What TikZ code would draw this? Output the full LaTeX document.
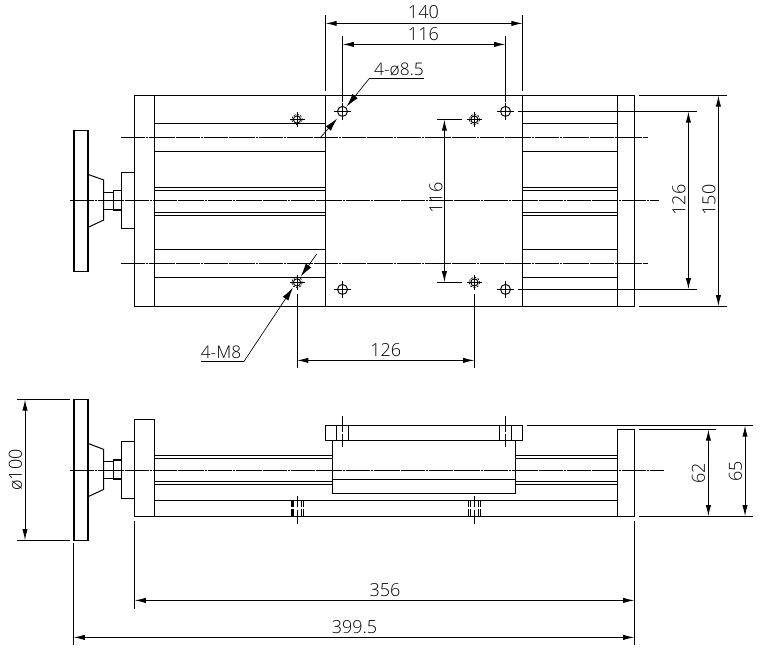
\documentclass[tikz,border=0pt]{standalone}
\usepackage{fontspec}
\setmainfont{Open Sans Light}
\usetikzlibrary{arrows.meta,calc}
\tikzset{
  part/.style={line width=0.75pt,line cap=butt,line join=miter},
  heavy/.style={line width=1.6pt},
  thin line/.style={line width=0.7pt},
  center line/.style={line width=0.75pt,dash pattern=on 18pt off .6pt on 1.5pt off .6pt},
  dimline/.style={line width=0.75pt,{Latex[length=8.5pt,width=4pt]}-{Latex[length=8.5pt,width=4pt]}},
  leader/.style={line width=0.5pt,-{Latex[length=10pt,width=5pt]}},
  label/.style={inner sep=0pt,font=\fontsize{13.5}{13.5}\selectfont},
  smalllabel/.style={inner sep=0pt,font=\fontsize{13}{13}\selectfont}
}
\newcommand{\holeA}[1]{%
  \draw[thin line] (#1) circle (5);
  \draw[thin line] ($(#1)+(-8.5,0)$) -- ++(17,0);
  \draw[thin line] ($(#1)+(0,-8.5)$) -- ++(0,17);
}
\newcommand{\holeB}[1]{%
  \draw[thin line] (#1) circle (3.6);
  \draw[line width=0.5pt,dash pattern=on 1.6pt off 1pt] (#1) circle (5.3);
  \draw[thin line] ($(#1)+(-7.5,0)$) -- ++(15,0);
  \draw[thin line] ($(#1)+(0,-7.5)$) -- ++(0,15);
}
\begin{document}
\begin{tikzpicture}[x=0.75pt,y=-0.75pt]
\useasboundingbox (0,0) rectangle (766,659);
\fill[white] (0,0) rectangle (766,659);

% ===== TOP VIEW =====
\draw[part] (134.5,95.4) rectangle (634.4,306.4);
\foreach \x in {154.5,325.5,522.4,617.5} \draw[part] (\x,95.4) -- (\x,306.4);
\foreach \y in {123.4,151.4,187.4,190.4,212.4,215.4,249.4,277.4}{
  \draw[part] (154.5,\y) -- (325.5,\y);
  \draw[part] (522.4,\y) -- (617.5,\y);
}
\draw[center line] (121,137.4) -- (648,137.4);
\draw[center line] (121,263.4) -- (648,263.4);
\draw[center line] (70,200.4) -- (659,200.4);
% handwheel
\draw[part] (73.7,130.7) rectangle (88,271.4);
\draw[heavy] (73.7,130.7) -- (73.7,271.4);
\draw[heavy] (88,130.7) -- (88,271.4);
\draw[part] (88,174.4) -- (103.7,180) -- (103.7,220) -- (88,227.4);
\draw[part] (103.7,192.4) -- (113.4,192.4) (103.7,209.4) -- (113.4,209.4);
\draw[part] (113.4,190.4) rectangle (121.4,210.4);
\draw[heavy] (113.4,210.4) -- (121.4,210.4);
\draw[part] (121.4,172.4) rectangle (134.5,228.4);
% holes
\holeB{297,119.5}
\holeB{474.4,119.5}
\holeB{297,282.4}
\holeB{474.4,282.4}
\holeA{342.5,111.4}
\holeA{505.5,111.4}
\holeA{342.5,289.4}
\holeA{505.5,289.4}

% extension lines, top view
\draw[thin line] (325.4,15) -- (325.4,90.7);
\draw[thin line] (522.7,15) -- (522.7,90.7);
\draw[thin line] (342.5,36) -- (342.5,102);
\draw[thin line] (505.5,36) -- (505.5,102);
\draw[thin line] (518,111.4) -- (696.7,111.4);
\draw[thin line] (518,289.4) -- (696.7,289.4);
\draw[thin line] (639,95.4) -- (726.7,95.4);
\draw[thin line] (639,306.4) -- (726.7,306.4);
\draw[thin line] (437.4,119.4) -- (461.7,119.4);
\draw[thin line] (437.4,282.4) -- (461.7,282.4);
\draw[thin line] (297,294.4) -- (297,368.4);
\draw[thin line] (474.4,294.4) -- (474.4,368.4);
% dimensions, top view
\draw[dimline] (325.4,23.4) -- (522.7,23.4);
\draw[dimline] (342.5,44.4) -- (505.5,44.4);
\draw[dimline] (444.4,119.4) -- (444.4,282.4);
\draw[dimline] (688.4,111.4) -- (688.4,289.4);
\draw[dimline] (718.4,95.4) -- (718.4,306.4);
\draw[dimline] (297,360.4) -- (474.4,360.4);
\node[label] (d140) at (423.4,12.5) {140};
\node[label] (d116) at (423.4,34.5) {116};
\node[label,rotate=90] (d116v) at (436,198) {116};
\node[label,rotate=90] (d126v) at (679,200) {126};
\node[label,rotate=90] (d150) at (709,200) {150};
\node[label] (d126h) at (385.7,350.5) {126};
% leaders
\node[smalllabel] (t85) at (399,69) {4-ø8.5};
\node[smalllabel] (tm8) at (221,352.5) {4-M8};
\draw[line width=0.5pt] (424,78.4) -- (369.4,78.4);
\draw[leader] (369.4,78.4) -- (346.7,106.5);
\draw[leader] (320,138) -- (337.2,118.5);
\draw[line width=0.5pt] (201,361.4) -- (244,361.4);
\draw[leader] (244,361.4) -- (293,287.5);
\draw[leader] (316.7,254) -- (300.7,276.5);

% ===== FRONT VIEW =====
\draw[center line] (70,470.4) -- (664,470.4);
% handwheel
\draw[part] (73.7,399.4) rectangle (88,540.4);
\draw[heavy] (73.7,399.4) -- (73.7,540.4);
\draw[heavy] (88,399.4) -- (88,540.4);
\draw[part] (88,443.4) -- (103.7,449.4) -- (103.7,489.4) -- (88,496.7);
\draw[part] (103.7,461.4) -- (113.4,461.4) (103.7,478.7) -- (113.4,478.7);
\draw[part] (113.4,460.4) rectangle (121.4,479.4);
\draw[heavy] (113.4,460.4) -- (121.4,460.4) (113.4,479.4) -- (121.4,479.4);
\draw[part] (121.4,441.4) rectangle (134.5,498.4);
% end plates
\draw[part] (134.5,419.4) rectangle (154.5,516.4);
\draw[part] (617.5,429.4) rectangle (634.4,516.4);
% base
\draw[part] (154.5,500.4) -- (617.5,500.4);
\draw[part] (154.5,516.4) -- (617.5,516.4);
% rails
\foreach \y in {455.4,458.4,481.4,484.4}{
  \draw[part] (154.5,\y) -- (332.4,\y);
  \draw[part] (515.7,\y) -- (617.5,\y);
}
% carriage
\draw[part] (332.4,440.7) rectangle (515.7,493.4);
\draw[part] (332.4,479.4) -- (515.7,479.4);
\draw[part] (325.4,425.4) rectangle (522.4,440.7);
\foreach \x in {336.4,348.4,499.4,511.4} \draw[part] (\x,425.4) -- (\x,440.7);
\foreach \x in {342.4,505.4}{
  \draw[thin line] (\x,416) -- (\x,432) (\x,434) -- (\x,446.7);
}
% screws in base
\foreach \c in {297.4,474.4}{
  \draw[thin line] (\c,496) -- (\c,506.5) (\c,509.5) -- (\c,523.5);
  \foreach \d in {-6,-4,4,6}{
    \draw[thin line] (\c+\d,500.4) -- (\c+\d,507) (\c+\d,509) -- (\c+\d,516.4);
  }
}
\draw[heavy] (291.8,500.4) -- (291.8,507) (291.8,509) -- (291.8,516.4);
% extension lines, front view
\draw[thin line] (527,425.4) -- (752.7,425.4);
\draw[thin line] (639,429.4) -- (715.7,429.4);
\draw[thin line] (639,516.4) -- (752.7,516.4);
\draw[thin line] (17,399.4) -- (70,399.4);
\draw[thin line] (17,540.4) -- (70,540.4);
\draw[thin line] (73.5,543.4) -- (73.5,645);
\draw[thin line] (134.5,521) -- (134.5,608.7);
\draw[thin line] (634.4,521) -- (634.4,645);
% dimensions, front view
\draw[dimline] (708.4,429.4) -- (708.4,516.4);
\draw[dimline] (745,425.4) -- (745,516.4);
\draw[dimline] (25,399.4) -- (25,540.4);
\draw[dimline] (134.5,600.4) -- (634.4,600.4);
\draw[dimline] (73.5,637.4) -- (634.4,637.4);
\node[label,rotate=90] (d62) at (698.4,473) {62};
\node[label,rotate=90] (d65) at (735.5,471) {65};
\node[label,rotate=90] (d100) at (15.5,470) {ø100};
\node[label] (d356) at (385,590.5) {356};
\node[label] (d3995) at (354.5,627) {399.5};
\end{tikzpicture}
\end{document}
